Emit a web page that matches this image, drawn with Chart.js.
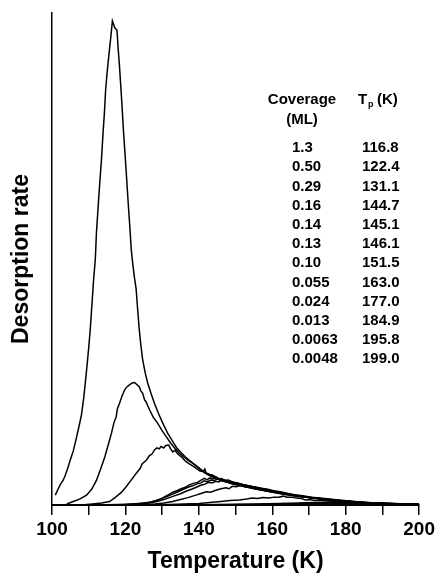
<!DOCTYPE html>
<html>
<head>
<meta charset="utf-8">
<script src="https://cdn.jsdelivr.net/npm/chart.js@4.4.1/dist/chart.umd.min.js"></script>
<style>
  html, body { margin: 0; padding: 0; background: #fff; }
  canvas { display: block; }
</style>
</head>
<body>
<canvas id="tpd" width="438" height="575"></canvas>
<script>
// TPD traces, [temperature K, desorption rate (arb.)]
const cov1_3 = [[100.9,0.020],[101.5,0.030],[102.3,0.042],[103.0,0.050],[103.5,0.058],[104.3,0.075],[105.0,0.092],[105.8,0.110],[106.6,0.135],[107.3,0.158],[108.0,0.182],[108.6,0.215],[108.9,0.236],[109.5,0.280],[110.0,0.320],[110.4,0.355],[110.9,0.410],[111.3,0.455],[111.8,0.500],[112.1,0.553],[112.6,0.610],[113.0,0.654],[113.5,0.705],[113.9,0.756],[114.3,0.800],[114.6,0.843],[115.0,0.878],[115.5,0.915],[116.0,0.950],[116.45,0.984],[117.1,0.970],[117.7,0.965],[118.0,0.930],[118.4,0.890],[119.0,0.820],[119.5,0.756],[120.1,0.690],[120.7,0.620],[121.2,0.565],[121.6,0.518],[122.0,0.490],[122.5,0.460],[122.9,0.440],[123.3,0.400],[123.7,0.362],[124.2,0.325],[124.7,0.295],[125.4,0.268],[126.1,0.247],[127.0,0.226],[127.9,0.207],[129.0,0.186],[130.2,0.166],[131.5,0.146],[132.9,0.129],[134.0,0.116],[135.2,0.106],[136.3,0.098],[137.4,0.091],[138.5,0.084],[139.6,0.078],[140.8,0.070],[141.9,0.064],[143.2,0.059],[144.5,0.055],[145.8,0.050],[147.3,0.047],[149.0,0.043],[150.8,0.040],[152.8,0.037],[155.0,0.033],[157.2,0.030],[159.5,0.027],[161.8,0.024],[164.0,0.021],[166.5,0.018],[168.7,0.016],[170.8,0.014],[173.0,0.012],[175.5,0.010],[177.8,0.008],[179.9,0.007],[182.5,0.006],[185.0,0.005],[188.9,0.003],[192.0,0.002],[196.0,0.0015],[200.0,0.001]];
const cov0_50 = [[104.0,0.002],[105.8,0.007],[107.5,0.012],[109.4,0.020],[110.8,0.032],[112.1,0.050],[113.2,0.072],[114.4,0.098],[115.3,0.122],[116.2,0.146],[116.9,0.168],[117.5,0.180],[117.8,0.195],[118.4,0.207],[119.1,0.222],[119.8,0.234],[120.4,0.240],[121.1,0.244],[121.8,0.248],[122.5,0.249],[123.1,0.245],[123.8,0.240],[124.2,0.232],[124.7,0.227],[125.2,0.214],[125.6,0.210],[126.6,0.193],[127.6,0.178],[128.8,0.166],[129.9,0.152],[131.1,0.139],[132.3,0.126],[133.5,0.115],[134.7,0.105],[135.8,0.098],[137.0,0.091],[138.3,0.085],[139.5,0.078],[140.6,0.072],[141.8,0.065],[143.0,0.061],[144.3,0.056],[145.5,0.052],[147.0,0.048],[148.8,0.044],[150.6,0.041],[152.5,0.037],[154.8,0.034],[157.0,0.031],[159.4,0.027],[161.6,0.024],[164.2,0.021],[166.4,0.019],[168.8,0.016],[171.0,0.014],[173.4,0.012],[175.6,0.010],[178.2,0.008],[180.5,0.007],[183.0,0.006],[186.0,0.004],[189.5,0.003],[193.0,0.002],[197.0,0.0015],[200.0,0.001]];
const cov0_29 = [[108.0,0.000],[111.0,0.002],[113.5,0.004],[115.7,0.007],[117.5,0.017],[118.8,0.025],[120.2,0.037],[121.5,0.050],[122.9,0.064],[124.0,0.074],[124.6,0.084],[125.7,0.091],[126.5,0.100],[127.3,0.104],[127.9,0.112],[128.6,0.116],[129.2,0.114],[129.7,0.119],[130.4,0.116],[131.0,0.121],[131.8,0.122],[132.3,0.114],[132.9,0.108],[133.5,0.111],[134.2,0.104],[135.0,0.099],[135.6,0.095],[136.5,0.088],[137.3,0.084],[138.2,0.080],[139.2,0.075],[140.3,0.069],[141.2,0.068],[141.6,0.073],[142.0,0.065],[142.9,0.062],[143.7,0.061],[144.8,0.056],[146.0,0.052],[147.4,0.049],[149.0,0.045],[150.8,0.042],[152.6,0.038],[154.5,0.035],[156.8,0.031],[159.2,0.028],[161.5,0.025],[164.0,0.022],[166.6,0.019],[169.0,0.016],[171.4,0.014],[174.0,0.012],[176.4,0.010],[179.0,0.008],[181.6,0.007],[184.4,0.005],[188.0,0.004],[192.0,0.002],[196.0,0.0015],[200.0,0.001]];
const cov0_16 = [[112.0,0.000],[118.0,0.001],[122.0,0.002],[125.0,0.004],[127.0,0.006],[128.4,0.009],[129.8,0.013],[131.0,0.018],[132.0,0.022],[132.9,0.026],[134.0,0.029],[135.2,0.033],[136.3,0.036],[137.4,0.041],[138.5,0.044],[139.6,0.046],[140.5,0.050],[141.5,0.054],[142.2,0.051],[143.0,0.055],[143.8,0.053],[144.7,0.057],[145.4,0.053],[146.2,0.054],[147.0,0.050],[148.0,0.051],[149.2,0.047],[150.5,0.045],[152.0,0.041],[153.5,0.039],[155.0,0.036],[156.8,0.033],[158.5,0.031],[160.4,0.028],[162.3,0.025],[164.5,0.022],[166.8,0.019],[169.0,0.017],[171.5,0.014],[174.0,0.012],[176.5,0.010],[179.0,0.008],[182.0,0.006],[185.0,0.005],[188.5,0.004],[192.0,0.003],[196.0,0.002],[200.0,0.001]];
const cov0_14 = [[114.0,0.000],[120.0,0.001],[124.0,0.003],[126.5,0.005],[128.0,0.008],[129.5,0.012],[131.0,0.016],[132.5,0.021],[134.0,0.026],[135.5,0.031],[137.0,0.036],[138.3,0.039],[139.5,0.043],[140.6,0.045],[141.4,0.049],[142.3,0.047],[143.2,0.051],[144.2,0.050],[145.1,0.053],[146.0,0.050],[147.0,0.051],[148.2,0.048],[149.5,0.046],[151.0,0.043],[152.6,0.040],[154.2,0.037],[156.0,0.034],[158.0,0.031],[160.0,0.028],[162.0,0.025],[164.2,0.022],[166.5,0.019],[169.0,0.017],[171.5,0.014],[174.0,0.012],[176.8,0.010],[179.5,0.008],[182.5,0.006],[185.5,0.005],[189.0,0.004],[193.0,0.003],[197.0,0.002],[200.0,0.001]];
const cov0_13 = [[115.0,0.000],[121.0,0.001],[125.0,0.003],[127.5,0.005],[129.0,0.008],[130.5,0.011],[132.0,0.015],[133.5,0.019],[135.0,0.023],[136.5,0.028],[138.0,0.032],[139.3,0.036],[140.5,0.040],[141.6,0.042],[142.6,0.046],[143.6,0.045],[144.6,0.048],[145.4,0.047],[146.1,0.050],[147.0,0.048],[148.0,0.049],[149.2,0.046],[150.6,0.044],[152.0,0.041],[153.6,0.039],[155.3,0.036],[157.0,0.033],[159.0,0.030],[161.0,0.027],[163.2,0.024],[165.5,0.021],[168.0,0.018],[170.5,0.015],[173.0,0.013],[175.8,0.011],[178.5,0.009],[181.5,0.007],[184.5,0.005],[188.0,0.004],[192.0,0.003],[196.0,0.002],[200.0,0.001]];
const cov0_10 = [[118.0,0.000],[124.0,0.001],[128.0,0.002],[130.5,0.004],[132.9,0.007],[135.0,0.011],[137.0,0.015],[139.2,0.020],[140.8,0.024],[142.0,0.027],[143.2,0.026],[144.6,0.030],[146.0,0.033],[147.4,0.035],[148.2,0.033],[149.1,0.038],[150.2,0.037],[151.5,0.040],[152.6,0.037],[153.6,0.039],[154.6,0.037],[155.8,0.036],[157.2,0.034],[158.8,0.032],[160.4,0.029],[162.2,0.027],[164.0,0.024],[166.0,0.021],[168.3,0.019],[170.6,0.016],[173.0,0.014],[175.5,0.012],[178.0,0.010],[181.0,0.008],[184.0,0.006],[187.5,0.004],[191.0,0.003],[195.0,0.002],[200.0,0.001]];
const cov0_055 = [[125.0,0.000],[132.0,0.001],[136.0,0.002],[140.1,0.003],[143.0,0.005],[146.0,0.007],[148.5,0.009],[151.0,0.010],[153.0,0.012],[154.5,0.014],[156.0,0.013],[157.5,0.015],[159.0,0.014],[160.5,0.016],[161.8,0.016],[163.0,0.018],[164.0,0.016],[165.2,0.016],[166.5,0.014],[168.0,0.013],[169.0,0.010],[170.2,0.011],[171.5,0.009],[173.0,0.009],[175.0,0.008],[177.5,0.007],[180.0,0.005],[183.0,0.004],[186.5,0.003],[190.0,0.002],[195.0,0.001],[200.0,0.0005]];
const cov0_024 = [[135.0,0.000],[145.0,0.001],[155.0,0.002],[162.0,0.003],[167.0,0.004],[171.0,0.005],[174.0,0.005],[177.0,0.006],[179.5,0.005],[182.0,0.005],[185.0,0.004],[188.0,0.003],[192.0,0.002],[196.0,0.001],[200.0,0.0005]];
const cov0_013 = [[140,0],[155,0.001],[165,0.002],[172,0.003],[178,0.003],[182,0.004],[185,0.004],[188,0.003],[192,0.002],[196,0.002],[200,0.001]];
const cov0_0063 = [[150,0],[170,0.001],[182,0.001],[190,0.002],[196,0.002],[200,0.0015]];
const cov0_0048 = [[155,0],[175,0.001],[188,0.001],[195,0.0015],[199,0.002],[200,0.002]];

const traces = [cov1_3, cov0_50, cov0_29, cov0_16, cov0_14, cov0_13, cov0_10, cov0_055, cov0_024, cov0_013, cov0_0063, cov0_0048];

// table in the upper right
const coverageLabels = ['1.3', '0.50', '0.29', '0.16', '0.14', '0.13', '0.10', '0.055', '0.024', '0.013', '0.0063', '0.0048'];
const peakTemps = ['116.8', '122.4', '131.1', '144.7', '145.1', '146.1', '151.5', '163.0', '177.0', '184.9', '195.8', '199.0'];

const FONT = '"Liberation Sans", Arial, Helvetica, sans-serif';
Chart.defaults.font.family = FONT;
Chart.defaults.color = '#000';

const tablePlugin = {
    id: 'coverageTable',
    afterDraw(chart) {
        const c = chart.ctx;
        c.save();
        c.fillStyle = '#000';
        c.textBaseline = 'middle';
        c.font = 'bold 15px ' + FONT;
        c.textAlign = 'center';
        c.fillText('Coverage', 302, 100);
        c.fillText('(ML)', 302, 120);
        c.textAlign = 'left';
        c.fillText('T', 358, 100);
        c.fillText('(K)', 377, 100);
        c.font = 'bold 9px ' + FONT;
        c.fillText('p', 368, 105);
        c.font = 'bold 15px ' + FONT;
        coverageLabels.forEach((lab, i) => {
            const y = 148 + i * 19.2;
            c.fillText(lab, 292, y);
            c.fillText(peakTemps[i], 362, y);
        });
        c.restore();
    }
};

new Chart(document.getElementById('tpd'), {
    type: 'line',
    data: {
        datasets: traces.map((t, i) => ({
            label: coverageLabels[i] + ' ML',
            data: t.map(p => ({x: p[0], y: p[1]})),
            borderColor: '#000',
            borderWidth: 1.5,
            pointRadius: 0,
            tension: 0,
            fill: false
        }))
    },
    options: {
        responsive: false,
        animation: false,
        layout: {padding: {top: 13, right: 17, left: 0, bottom: 0}},
        plugins: {legend: {display: false}, tooltip: {enabled: false}},
        scales: {
            x: {
                type: 'linear',
                min: 100,
                max: 200,
                afterFit: s => { s.height = 70; },
                border: {display: true, color: '#000', width: 2},
                grid: {display: true, drawOnChartArea: false, drawTicks: true, tickLength: 10, color: '#000', lineWidth: 1.5},
                ticks: {
                    stepSize: 10,
                    autoSkip: false,
                    maxRotation: 0,
                    padding: 3,
                    font: {size: 19, weight: 'bold'},
                    callback: v => (v % 20 === 0 ? String(v) : '')
                },
                title: {display: true, text: 'Temperature (K)', font: {size: 23, weight: 'bold'}, padding: {top: 0, bottom: 0}}
            },
            y: {
                min: 0,
                max: 1,
                afterFit: s => { s.width = 52; },
                border: {display: true, color: '#000', width: 1.5},
                grid: {display: false},
                ticks: {display: false},
                title: {display: true, text: 'Desorption rate', font: {size: 23, weight: 'bold'}, padding: {top: 8, bottom: 0}}
            }
        }
    },
    plugins: [tablePlugin]
});
</script>
</body>
</html>
